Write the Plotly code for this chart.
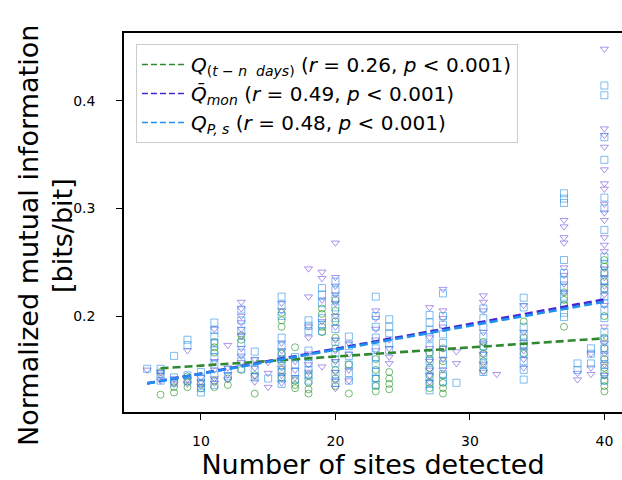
import plotly.graph_objects as go

# Number of sites detected (one column of points per value)
sites = [6, 7, 8, 9, 10, 11, 12, 13, 14, 15, 16, 17, 18, 19, 20, 21, 23, 24,
         27, 28, 29, 31, 32, 34, 37, 38, 39, 40]

# Normalized mutual information per column, Q_(t-n days)
q_tn_days = [
    [], [0.127, 0.148], [0.139, 0.134, 0.129], [0.144, 0.139, 0.134], [0.133, 0.137],
    [0.176, 0.171, 0.166, 0.140, 0.134], [0.142, 0.136], [0.182, 0.178, 0.150],
    [0.145, 0.128], [], [0.203, 0.196, 0.190, 0.165, 0.158, 0.150, 0.143],
    [0.171, 0.140, 0.136, 0.133], [0.145, 0.138, 0.132, 0.128],
    [0.207, 0.202, 0.190, 0.185],
    [0.215, 0.205, 0.195, 0.180, 0.170, 0.160, 0.150, 0.142, 0.135],
    [0.155, 0.128], [0.160, 0.150, 0.142, 0.135, 0.130], [0.148, 0.142, 0.137, 0.132],
    [0.166, 0.160, 0.152, 0.145, 0.138, 0.133], [0.170, 0.158, 0.145, 0.138, 0.133, 0.128],
    [], [0.176, 0.171, 0.165, 0.158, 0.150], [], [0.195, 0.180, 0.172, 0.165],
    [0.222, 0.215, 0.210, 0.190], [], [],
    [0.252, 0.246, 0.240, 0.232, 0.225, 0.200, 0.180, 0.170, 0.160, 0.152, 0.145,
     0.140, 0.135, 0.130],
]

# Q-bar_mon
q_mon = [
    [0.150], [0.148, 0.140, 0.145], [0.142, 0.137], [0.168, 0.141, 0.137],
    [0.143, 0.139, 0.135], [0.188, 0.158, 0.150, 0.142, 0.138],
    [0.173, 0.152, 0.146, 0.141],
    [0.213, 0.207, 0.200, 0.194, 0.188, 0.182, 0.170, 0.163, 0.157],
    [0.160, 0.152, 0.145, 0.139], [0.157, 0.147, 0.134],
    [0.212, 0.205, 0.175, 0.168, 0.160, 0.152, 0.145, 0.138], [0.158, 0.150, 0.143],
    [0.244, 0.218, 0.190, 0.180, 0.165, 0.155, 0.148], [0.241, 0.235, 0.215, 0.195, 0.153],
    [0.268, 0.236, 0.228, 0.220, 0.212, 0.200, 0.190, 0.178, 0.168, 0.158, 0.148,
     0.140, 0.133],
    [0.175, 0.165, 0.150, 0.140], [0.205, 0.198, 0.188, 0.178, 0.168],
    [0.178, 0.170, 0.162, 0.156], [0.208, 0.180, 0.170, 0.158, 0.150, 0.145, 0.139],
    [0.225, 0.205, 0.198, 0.190, 0.170, 0.160, 0.150], [0.167, 0.156],
    [0.219, 0.213, 0.205, 0.185, 0.175, 0.165, 0.155, 0.148], [0.146],
    [0.210, 0.185, 0.176, 0.168, 0.160, 0.152],
    [0.289, 0.283, 0.273, 0.268, 0.245, 0.238, 0.230, 0.222], [0.141, 0.147],
    [0.165, 0.152, 0.146],
    [0.448, 0.374, 0.368, 0.357, 0.336, 0.323, 0.318, 0.304, 0.296, 0.289, 0.273,
     0.266, 0.260, 0.244, 0.236, 0.228, 0.220, 0.210, 0.190, 0.175, 0.165, 0.155, 0.145],
]

# Q_P,s
q_ps = [
    [0.151], [0.151, 0.140, 0.146], [0.163, 0.143, 0.138], [0.178, 0.173, 0.145, 0.140],
    [0.148, 0.143, 0.138, 0.133, 0.129],
    [0.194, 0.187, 0.181, 0.175, 0.168, 0.162, 0.155, 0.145, 0.136], [0.150, 0.144],
    [0.206, 0.196, 0.186, 0.175, 0.166, 0.158, 0.151], [0.167, 0.158, 0.150, 0.143],
    [0.142],
    [0.218, 0.210, 0.200, 0.180, 0.172, 0.166, 0.160, 0.154, 0.148, 0.142, 0.137],
    [0.162, 0.155, 0.148, 0.141],
    [0.196, 0.191, 0.186, 0.168, 0.162, 0.156, 0.150, 0.145, 0.140],
    [0.226, 0.220, 0.212, 0.198, 0.192, 0.186],
    [0.232, 0.224, 0.216, 0.208, 0.198, 0.188, 0.176, 0.166, 0.156, 0.146, 0.138],
    [0.181, 0.172, 0.163, 0.155, 0.147, 0.140],
    [0.218, 0.200, 0.190, 0.180, 0.170, 0.162, 0.155, 0.148, 0.142, 0.136],
    [0.197, 0.190, 0.184, 0.175, 0.168],
    [0.201, 0.194, 0.187, 0.180, 0.172, 0.165, 0.158, 0.150, 0.143, 0.137, 0.131],
    [0.221, 0.200, 0.192, 0.183, 0.175, 0.165, 0.155, 0.146, 0.139], [0.138],
    [0.207, 0.198, 0.190, 0.181, 0.172, 0.163, 0.155, 0.148], [],
    [0.217, 0.208, 0.190, 0.182, 0.174, 0.166, 0.158, 0.150, 0.141],
    [0.314, 0.309, 0.305, 0.252, 0.240, 0.233, 0.226, 0.218, 0.210, 0.203, 0.199],
    [0.156, 0.150], [0.170, 0.165, 0.156],
    [0.414, 0.405, 0.366, 0.345, 0.310, 0.300, 0.280, 0.255, 0.248, 0.240, 0.233,
     0.226, 0.218, 0.212, 0.205, 0.198, 0.185, 0.178, 0.170, 0.162, 0.155, 0.148, 0.140],
]

# Linear trend of each measure against site count: (intercept, slope)
fit_tn_days = (0.1455, 0.000845)
fit_mon = (0.1237, 0.002294)
fit_ps = (0.1241, 0.00223)

legend_labels = [
    "<i>Q</i><sub>(<i>t</i> − <i>n  days</i>)</sub> (<i>r</i> = 0.26, <i>p</i> &lt; 0.001)",
    "<i>Q̄</i><sub><i>mon</i></sub> (<i>r</i> = 0.49, <i>p</i> &lt; 0.001)",
    "<i>Q</i><sub><i>P, s</i></sub> (<i>r</i> = 0.48, <i>p</i> &lt; 0.001)",
]

y_title_lines = ["Normalized mutual information", "[bits/bit]"]


def flatten(columns):
    xs, ys = [], []
    for s, vals in zip(sites, columns):
        for v in vals:
            xs.append(s)
            ys.append(v)
    return xs, ys


series = [
    (q_tn_days, fit_tn_days, "circle-open", "rgba(40,150,40,0.65)", "#2f8a2f"),
    (q_mon, fit_mon, "triangle-down-open", "rgba(120,80,225,0.62)", "#4a26d0"),
    (q_ps, fit_ps, "square-open", "rgba(40,145,230,0.6)", "#1f8ff0"),
]

fig = go.Figure()

# scatter markers
for cols, fit, sym, mcol, lcol in series:
    xs, ys = flatten(cols)
    fig.add_trace(go.Scatter(
        x=xs, y=ys, mode="markers", showlegend=False,
        marker=dict(symbol=sym, size=7, color=mcol, line=dict(width=1, color=mcol)),
    ))

# dashed trend lines spanning each series' range
for cols, fit, sym, mcol, lcol in series:
    xs, _ = flatten(cols)
    x0, x1 = min(xs), max(xs)
    b0, b1 = fit
    fig.add_trace(go.Scatter(
        x=[x0, x1], y=[b0 + b1 * x0, b0 + b1 * x1], mode="lines", showlegend=False,
        line=dict(color=lcol, width=2.6, dash="8px,4px"),
    ))

# legend entries
for (cols, fit, sym, mcol, lcol), label in zip(series, legend_labels):
    fig.add_trace(go.Scatter(
        x=[None], y=[None], mode="lines", name=label,
        line=dict(color=lcol, width=1.5, dash="6px,3px"),
    ))

font = "DejaVu Sans, Arial, sans-serif"

# two-line y-axis title
for xpix, line in zip([28, 62], y_title_lines):
    fig.add_annotation(
        text=line, xref="paper", yref="paper",
        x=(xpix - 124) / 498, y=1 - (236 - 33) / 379,
        xanchor="center", yanchor="middle", textangle=-90, showarrow=False,
        font=dict(family=font, size=27, color="black"),
    )

fig.update_layout(
    width=622, height=480,
    margin=dict(l=124, r=0, t=33, b=68),
    paper_bgcolor="white", plot_bgcolor="white",
    font=dict(family=font, color="black"),
    showlegend=True,
    legend=dict(
        x=0.024, y=0.971, xanchor="left", yanchor="top",
        bgcolor="rgba(255,255,255,0.85)", bordercolor="#cccccc", borderwidth=1,
        font=dict(family=font, size=20, color="black"),
        itemwidth=44,
    ),
    xaxis=dict(
        range=[4.28, 41.31], tickvals=[10, 20, 30, 40],
        showline=True, linecolor="black", linewidth=1.5, mirror=True,
        ticks="outside", ticklen=6, tickwidth=1.3, tickcolor="black",
        tickfont=dict(size=14), ticklabelstandoff=9,
        showgrid=False, zeroline=False,
        title=dict(text="Number of sites detected", font=dict(size=27), standoff=5),
    ),
    yaxis=dict(
        range=[0.1109, 0.4628], tickvals=[0.2, 0.3, 0.4], ticktext=["0.2", "0.3", "0.4"],
        showline=True, linecolor="black", linewidth=1.5, mirror=False,
        ticks="outside", ticklen=6, tickwidth=1.3, tickcolor="black",
        tickfont=dict(size=14), ticklabelstandoff=18,
        showgrid=False, zeroline=False,
    ),
)

fig.write_html("out.html")
